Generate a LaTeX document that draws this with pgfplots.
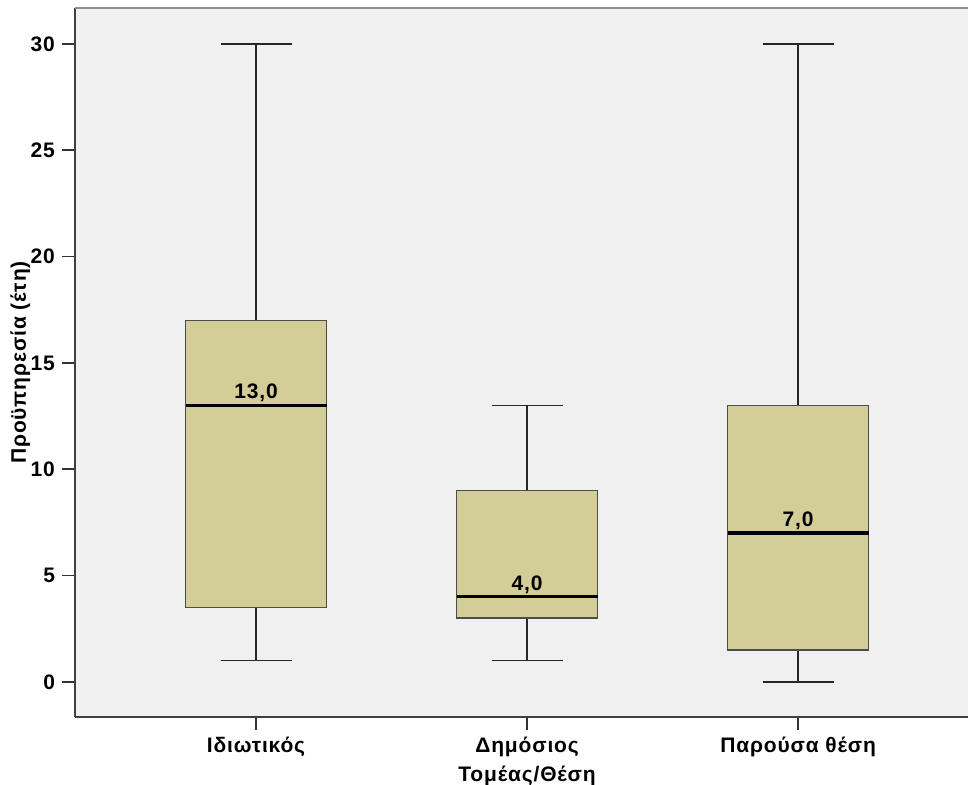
\documentclass[border=0pt]{standalone}
\usepackage{fontspec}
\setmainfont{Liberation Sans}[LetterSpace=4]
\usepackage{pgfplots}
\usepgfplotslibrary{statistics}
\pgfplotsset{compat=1.18}
\definecolor{boxc}{RGB}{211,206,151}
\definecolor{bgc}{RGB}{240,240,240}
\newcommand{\lf}{\bfseries\fontsize{10.5}{12}\selectfont}
\begin{document}
\begin{tikzpicture}[x=1pt,y=1pt]
\begin{axis}[
  at={(0,0)}, anchor=south west,
  scale only axis,
  width=446.5pt, height=354.5pt,
  xmin=0.332, xmax=3.627,
  ymin=-1.65, ymax=31.69,
  axis x line=bottom, axis y line=left,
  axis line style={-, line width=0.9pt, draw=black!75},
  axis background/.style={fill=bgc},
  xtick={1,2,3},
  xticklabels={Ιδιωτικός, Δημόσιος, Παρούσα θέση},
  ytick={0,5,...,30},
  tick align=outside,
  major tick length=6.5pt,
  tick style={line width=0.9pt, black!80},
  /pgf/number format/assume math mode=true,
  ticklabel style={font=\lf},
  xlabel={Τομέας/Θέση},
  ylabel={Προϋπηρεσία (έτη)},
  every axis x label/.style={at={(axis description cs:0.5062,0)}, anchor=north, yshift=-21pt, font=\lf},
  every axis y label/.style={at={(axis description cs:0,0.5)}, rotate=90, anchor=north, inner sep=0pt, yshift=32.5pt, font=\lf},
  boxplot/draw direction=y,
  boxplot/box extend=0.52,
  boxplot/whisker extend=0.262,
  boxplot/every median/.style={line width=1.6pt, black},
  boxplot/every whisker/.style={line width=0.8pt, black!85},
  clip=false,
]
\addplot[fill=boxc, draw=black!70, line width=0.7pt,
  boxplot prepared={lower whisker=1, lower quartile=3.5, median=13, upper quartile=17, upper whisker=30, draw position=1}] coordinates {};
\addplot[fill=boxc, draw=black!70, line width=0.7pt,
  boxplot prepared={lower whisker=1, lower quartile=3, median=4, upper quartile=9, upper whisker=13, draw position=2}] coordinates {};
\addplot[fill=boxc, draw=black!70, line width=0.7pt,
  boxplot prepared={lower whisker=0, lower quartile=1.5, median=7, upper quartile=13, upper whisker=30, draw position=3}] coordinates {};
\draw[line width=0.9pt, black!45] (rel axis cs:0,1) -- (rel axis cs:1,1);
\node[anchor=south, inner sep=1.5pt, font=\lf] at (axis cs:1,13) {13,0};
\node[anchor=south, inner sep=1.5pt, font=\lf] at (axis cs:2,4) {4,0};
\node[anchor=south, inner sep=1.5pt, font=\lf] at (axis cs:3,7) {7,0};
\end{axis}
\pgfresetboundingbox
\path[use as bounding box] (-37.5pt,-34pt) rectangle (446.5pt,358.5pt);
\end{tikzpicture}
\end{document}
